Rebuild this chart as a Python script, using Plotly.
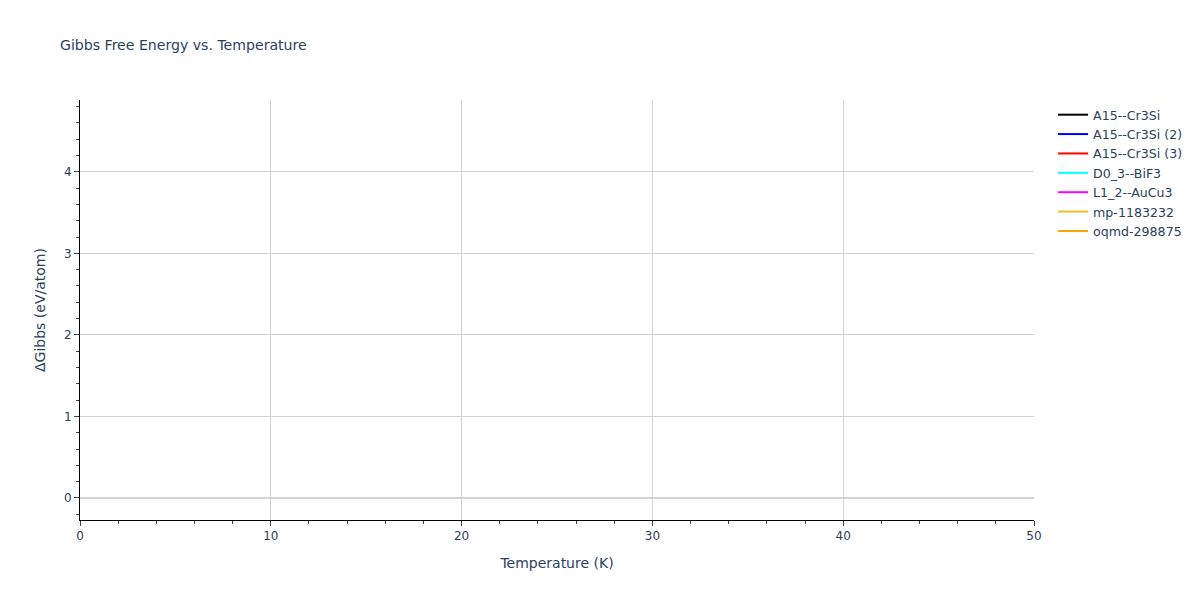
import plotly.graph_objects as go

names = ["A15--Cr3Si", "A15--Cr3Si (2)", "A15--Cr3Si (3)", "D0_3--BiF3",
         "L1_2--AuCu3", "mp-1183232", "oqmd-298875"]
colors = ["black", "blue", "red", "cyan", "magenta", "#e6c229", "orange"]
# No data points are visible within the plotted window
temperatures = [[None] for _ in names]
gibbs = [[None] for _ in names]

fig = go.Figure()
for n, c, t, g in zip(names, colors, temperatures, gibbs):
    fig.add_trace(go.Scatter(x=t, y=g, mode="lines", name=n, line=dict(color=c)))

fig.update_layout(
    title=dict(text="Gibbs Free Energy vs. Temperature", font=dict(size=14.1)),
    font=dict(family="DejaVu Sans", size=12),
    legend=dict(font=dict(size=12.6)),
    plot_bgcolor="white",
    paper_bgcolor="white",
    showlegend=True,
)
fig.update_xaxes(title_text="Temperature (K)", range=[0, 50], dtick=10,
                 showline=True, linecolor="black", ticks="outside",
                 gridcolor="lightgrey", zeroline=False,
                 minor=dict(ticks="outside", dtick=2, showgrid=False))
fig.update_yaxes(title_text="ΔGibbs (eV/atom)", range=[-0.27, 4.88], dtick=1,
                 showline=True, linecolor="black", ticks="outside",
                 gridcolor="lightgrey", zeroline=True, zerolinecolor="lightgrey",
                 zerolinewidth=2,
                 minor=dict(ticks="outside", dtick=0.2, showgrid=False))
fig.write_html(
    "out.html",
    config={"displayModeBar": False},
    post_script="document.body.style.margin='0px';"
                "Plotly.Plots.resize(document.getElementById('{plot_id}'));",
)
